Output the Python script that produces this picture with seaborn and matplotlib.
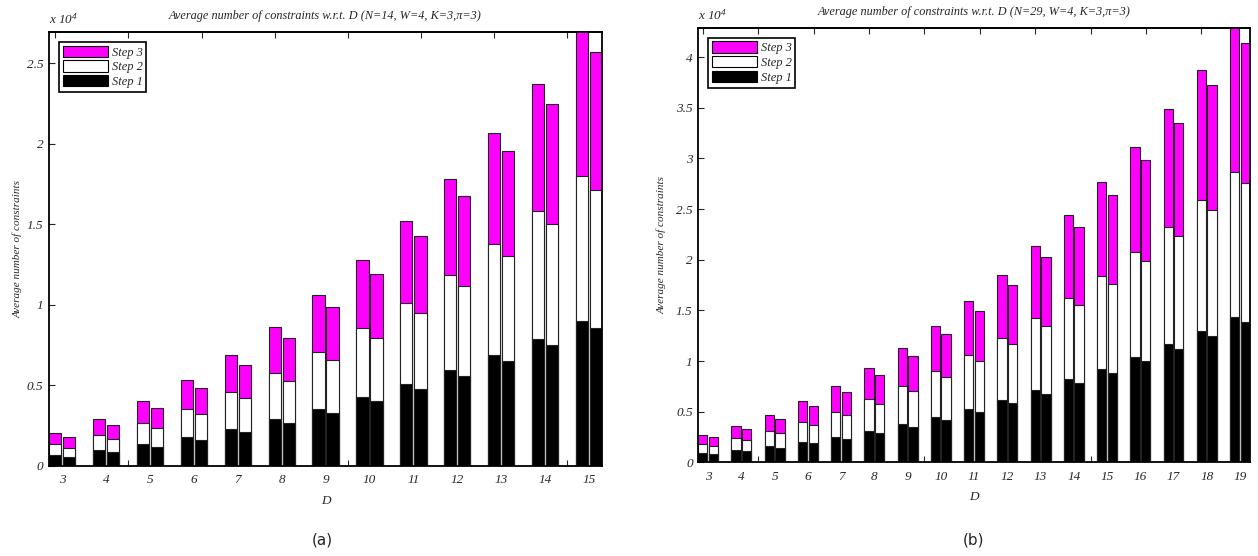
import numpy as np
import pandas as pd
import seaborn as sns
import matplotlib.pyplot as plt
from matplotlib.patches import Patch
from matplotlib.ticker import FuncFormatter

# ---- data (a): N=14, D = 3..15, two bars per D, three stacked steps ----
d_a = list(range(3, 16))
a_first_step1 = [680, 990, 1370, 1800, 2300, 2900, 3540, 4280, 5090, 5960, 6890, 7910, 9000]
a_first_step2 = [670, 940, 1280, 1760, 2280, 2860, 3520, 4270, 5030, 5920, 6880, 7910, 8990]
a_first_step3 = [680, 970, 1370, 1780, 2300, 2870, 3560, 4250, 5080, 5950, 6890, 7910, 9010]
a_second_step1 = [580, 870, 1200, 1620, 2110, 2670, 3290, 4020, 4780, 5610, 6540, 7520, 8570]
a_second_step2 = [560, 810, 1180, 1590, 2090, 2630, 3290, 3950, 4740, 5590, 6500, 7490, 8550]
a_second_step3 = [640, 890, 1220, 1630, 2090, 2670, 3280, 3970, 4770, 5570, 6550, 7490, 8590]

# ---- data (b): N=29, D = 3..19 ----
d_b = list(range(3, 20))
b_first_step1 = [950, 1210, 1610, 2030, 2530, 3120, 3780, 4500, 5290, 6180, 7140, 8190, 9240, 10420, 11650, 12960, 14340]
b_first_step2 = [860, 1160, 1510, 1950, 2470, 3100, 3720, 4480, 5270, 6120, 7070, 8060, 9180, 10310, 11550, 12900, 14290]
b_first_step3 = [910, 1240, 1580, 2040, 2560, 3120, 3780, 4510, 5330, 6190, 7140, 8130, 9250, 10430, 11680, 12900, 14370]
b_second_step1 = [850, 1120, 1440, 1880, 2330, 2890, 3510, 4210, 5000, 5850, 6770, 7800, 8850, 10000, 11180, 12470, 13820]
b_second_step2 = [760, 1050, 1420, 1770, 2310, 2860, 3490, 4180, 4970, 5800, 6720, 7700, 8750, 9900, 11130, 12410, 13750]
b_second_step3 = [860, 1090, 1410, 1880, 2330, 2900, 3520, 4250, 4970, 5880, 6750, 7700, 8820, 9910, 11150, 12390, 13790]

titles = ["Average number of constraints w.r.t. D (N=14, W=4, K=3,\u03c0=3)",
          "Average number of constraints w.r.t. D (N=29, W=4, K=3,\u03c0=3)"]
ylims = [26960, 42900]
step_colors = {"Step 3": "#ff00ff", "Step 2": "white", "Step 1": "black"}

sns.set_style("ticks")
plt.rcParams["font.family"] = ["Liberation Serif", "DejaVu Serif"]
plt.rcParams["font.style"] = "italic"
plt.rcParams["mathtext.fontset"] = "custom"
plt.rcParams["mathtext.rm"] = "Liberation Serif:italic"
plt.rcParams["mathtext.it"] = "Liberation Serif:italic"


def make_frame(d, s1a, s2a, s3a, s1b, s2b, s3b):
    rows = []
    for variant, s1, s2, s3 in [("first", s1a, s2a, s3a), ("second", s1b, s2b, s3b)]:
        for i, dv in enumerate(d):
            rows.append({"D": str(dv), "variant": variant,
                         "Step 1": s1[i], "Step 2": s1[i] + s2[i],
                         "Step 3": s1[i] + s2[i] + s3[i]})
    return pd.DataFrame(rows)


frames = [make_frame(d_a, a_first_step1, a_first_step2, a_first_step3,
                     a_second_step1, a_second_step2, a_second_step3),
          make_frame(d_b, b_first_step1, b_first_step2, b_first_step3,
                     b_second_step1, b_second_step2, b_second_step3)]

fig = plt.figure(figsize=(12.58, 5.56), dpi=100)
axes = [fig.add_axes([0.039, 0.162, 0.4396, 0.7806]),
        fig.add_axes([0.555, 0.1685, 0.4386, 0.7817])]

for ax, df, title, ytop, lab_x in zip(axes, frames, titles, ylims, [-0.047, -0.058]):
    order = list(df["D"].unique())
    n = len(order)
    # cumulative totals drawn back to front
    for step in ["Step 3", "Step 2", "Step 1"]:
        col = step_colors[step]
        sns.barplot(data=df, x="D", y=step, hue="variant", order=order,
                    palette=[col, col], saturation=1, width=0.64, gap=0.125,
                    edgecolor="#222222", linewidth=0.8, errorbar=None,
                    legend=False, ax=ax)
    ax.set_xlim(-0.3, n - 1 + 0.3)
    ax.set_ylim(0, ytop)
    ax.yaxis.set_major_formatter(FuncFormatter(lambda v, p: "%g" % (v / 1e4)))
    ax.set_yticks(np.arange(0, ytop, 5000))
    ax.tick_params(axis="y", direction="in", length=4, width=0.8, labelsize=9.5, pad=4,
                   right=False)
    ax.tick_params(axis="x", which="major", length=0, labelsize=9.5, pad=6)

    # leftover tick marks of the overlaid axes
    top_pos = [-0.16 + k * 5 / 3 for k in range(12) if -0.16 + k * 5 / 3 < n - 1 + 0.3]
    ax.set_xticks([top_pos[k] for k in (1, 4, 7)], minor=True)
    ax.tick_params(axis="x", which="minor", direction="in", length=4, width=0.8)
    sec = ax.secondary_xaxis("top")
    sec.set_xticks(top_pos)
    sec.tick_params(axis="x", direction="in", length=4, width=0.8, labeltop=False)
    sec.spines["top"].set_linewidth(1.3)

    for side in ["left", "right", "top", "bottom"]:
        ax.spines[side].set_visible(True)
        ax.spines[side].set_linewidth(1.3)
        ax.spines[side].set_color("black")

    ax.set_title(title, fontsize=8.8, pad=9)
    ax.set_xlabel("D", fontsize=9.5, labelpad=6)
    ax.set_ylabel("Average number of constraints", fontsize=8)
    ax.yaxis.set_label_coords(lab_x, 0.5)
    ax.text(0.0, 1.012, r"x 10$^{4}$", transform=ax.transAxes, fontsize=9.5,
            ha="left", va="bottom")

    handles = [Patch(facecolor=step_colors[s], edgecolor="black", linewidth=0.8)
               for s in ["Step 3", "Step 2", "Step 1"]]
    leg = ax.legend(handles, ["Step 3", "Step 2", "Step 1"], loc="upper left",
                    fontsize=9, frameon=True, fancybox=False, edgecolor="black",
                    framealpha=1, handlelength=3.6, handleheight=1.0,
                    handletextpad=0.3, labelspacing=0.15, borderpad=0.3,
                    borderaxespad=0.8)
    leg.get_frame().set_linewidth(1.2)

fig.text(322 / 1258, 1 - 540 / 556, "(a)", family="DejaVu Sans", style="normal",
         fontsize=11, ha="center", va="center")
fig.text(973 / 1258, 1 - 540 / 556, "(b)", family="DejaVu Sans", style="normal",
         fontsize=11, ha="center", va="center")

fig.savefig("out.png", dpi=100)
